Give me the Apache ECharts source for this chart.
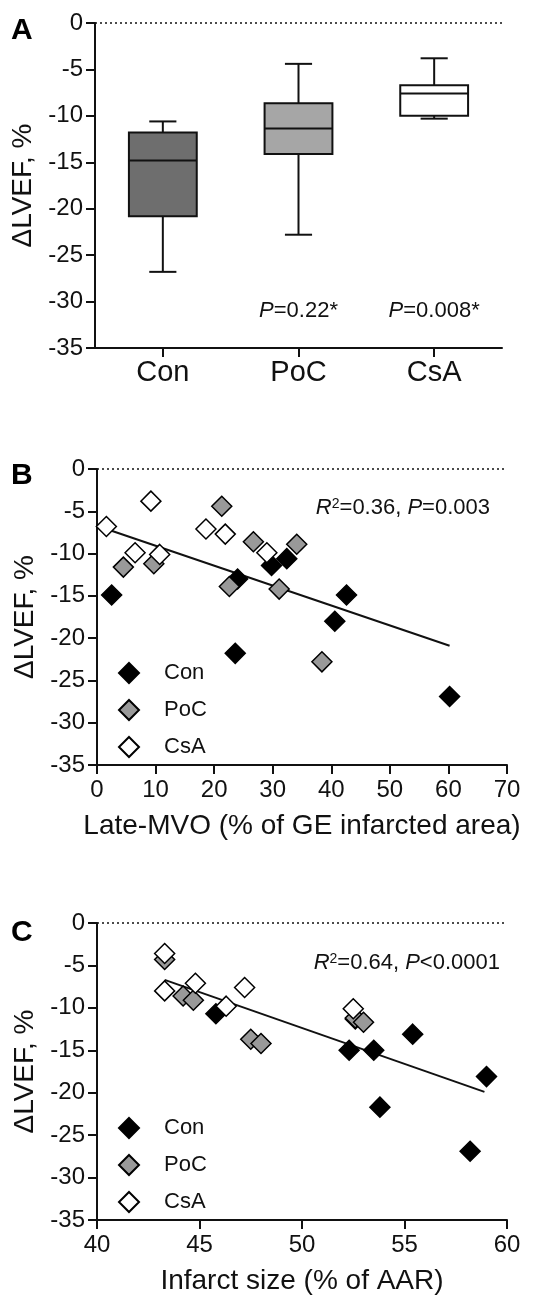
<!DOCTYPE html>
<html>
<head>
<meta charset="utf-8">
<script src="https://cdn.jsdelivr.net/npm/echarts@6/dist/echarts.min.js"></script>
<style>
  body { margin: 0; background: #fff; }
  #chart { width: 534px; height: 1296px; }
</style>
</head>
<body>
<div id="chart"></div>
<script>
  // Panel A - box plot (min, Q1, median, Q3, max)
  const groups = ['Con', 'PoC', 'CsA'];
  const boxMin = [-26.8, -22.8, -10.3];
  const boxQ1 = [-20.8, -14.1, -10.0];
  const boxMed = [-14.8, -11.35, -7.6];
  const boxQ3 = [-11.8, -8.65, -6.7];
  const boxMax = [-10.6, -4.4, -3.8];
  const pLabels = ['', '=0.22*', '=0.008*'];

  // Panel B - Late-MVO vs dLVEF
  const mvoCon = [[2.5, -14.9], [24.0, -13.0], [23.6, -21.8], [29.8, -11.4], [32.4, -10.6], [42.6, -14.9], [40.6, -18.0], [60.2, -26.9]];
  const mvoPoC = [[4.5, -11.6], [9.7, -11.2], [21.3, -4.4], [22.6, -13.9], [26.7, -8.6], [34.1, -8.9], [31.1, -14.2], [38.4, -22.8]];
  const mvoCsA = [[1.6, -6.8], [9.2, -3.8], [6.5, -9.9], [10.7, -10.1], [18.6, -7.1], [21.9, -7.7], [29.0, -9.9]];
  const mvoFit = [[1.6, -7.1], [60.2, -20.9]];

  // Panel C - infarct size vs dLVEF
  const isCon = [[45.8, -10.7], [52.3, -15.0], [53.5, -15.0], [55.4, -13.1], [53.8, -21.7], [59.0, -18.1], [58.2, -26.9], [52.6, -11.3]];
  const isPoC = [[43.3, -4.3], [44.2, -8.6], [44.7, -9.1], [47.5, -13.7], [48.0, -14.2], [52.6, -11.2], [53.0, -11.7]];
  const isCsA = [[43.3, -3.6], [43.3, -8.0], [44.8, -7.1], [47.2, -7.6], [46.3, -9.8], [52.5, -10.1]];
  const isFit = [[43.3, -6.7], [58.9, -19.9]];

  const boxColors = ['#6e6e6e', '#a6a6a6', '#ffffff'];
  const dotColors = {Con: '#000000', PoC: '#999999', CsA: '#ffffff'};
  const font = "'Liberation Sans', Arial, sans-serif";

  let myChart = echarts.init(document.getElementById('chart'))

  function yAxisOpt(gridIndex) {
    return {
      gridIndex: gridIndex,
      type: 'value',
      min: -35, max: 0, interval: 5,
      name: 'ΔLVEF, %',
      nameLocation: 'middle',
      nameGap: 54,
      nameTextStyle: {fontSize: 28, fontFamily: font, color: '#111'},
      axisLine: {show: true, onZero: false, lineStyle: {color: '#111', width: 2}},
      axisTick: {show: true, length: 9, lineStyle: {color: '#111', width: 2}},
      axisLabel: {fontSize: 24, fontFamily: font, color: '#111', margin: 12},
      splitLine: {show: false}
    }
  }

  function xValueAxis(gridIndex, min, max, interval, name) {
    return {
      gridIndex: gridIndex,
      type: 'value',
      min: min, max: max, interval: interval,
      name: name,
      nameLocation: 'middle',
      nameGap: 47,
      nameTextStyle: {fontSize: 28, fontFamily: font, color: '#111'},
      axisLine: {show: true, onZero: false, lineStyle: {color: '#111', width: 2}},
      axisTick: {show: true, length: 9, lineStyle: {color: '#111', width: 2}},
      axisLabel: {fontSize: 24, fontFamily: font, color: '#111', margin: 13},
      splitLine: {show: false}
    }
  }

  const zeroLine = {
    silent: true,
    symbol: ['none', 'none'],
    label: {show: false},
    lineStyle: {type: [2, 3], color: '#111', width: 1.5},
    data: [{yAxis: 0}]
  };

  function scatter(name, data, axis) {
    return {
      name: name,
      type: 'scatter',
      xAxisIndex: axis, yAxisIndex: axis,
      symbol: 'diamond',
      symbolSize: 20,
      itemStyle: {color: dotColors[name], borderColor: '#000', borderWidth: 1.5, opacity: 1},
      data: data,
      z: 3
    }
  }

  function legendOpt(top) {
    return {
      orient: 'vertical',
      left: 118,
      top: top,
      padding: 0,
      itemGap: 15,
      itemWidth: 20,
      itemHeight: 20,
      selectedMode: false,
      textStyle: {fontSize: 22, fontFamily: font, color: '#111', padding: [0, 0, 0, 20]},
      data: ['Con', 'PoC', 'CsA']
    }
  }

  const richText = {
    n: {fontSize: 22, fontFamily: font, fill: '#111'},
    i: {fontSize: 22, fontFamily: font, fontStyle: 'italic', fill: '#111'},
    s: {fontSize: 14, fontFamily: font, fill: '#111', verticalAlign: 'top'}
  };

  function note(x, y, text, align) {
    return {
      type: 'text',
      x: x, y: y,
      style: {
        text: text,
        rich: richText,
        fontSize: 22,
        fontFamily: font,
        fill: '#111',
        align: align,
        verticalAlign: 'middle'
      }
    }
  }

  function panelLetter(y, letter) {
    return {
      type: 'text',
      x: 11, y: y,
      style: {text: letter, fontSize: 30, fontWeight: 'bold', fontFamily: font, fill: '#000', verticalAlign: 'middle'}
    }
  }

  myChart.setOption({
    animation: false,
    grid: [
      {left: 95, top: 23, width: 407, height: 325},
      {left: 97, top: 469, width: 410, height: 296},
      {left: 97, top: 923, width: 410, height: 297}
    ],
    xAxis: [
      {
        gridIndex: 0,
        type: 'category',
        data: groups,
        axisLine: {show: true, onZero: false, lineStyle: {color: '#111', width: 2}},
        axisTick: {show: true, alignWithLabel: true, length: 9, lineStyle: {color: '#111', width: 2}},
        axisLabel: {fontSize: 29, fontFamily: font, color: '#111', margin: 10}
      },
      xValueAxis(1, 0, 70, 10, 'Late-MVO (% of GE infarcted area)'),
      xValueAxis(2, 40, 60, 5, 'Infarct size (% of AAR)')
    ],
    yAxis: [yAxisOpt(0), yAxisOpt(1), yAxisOpt(2)],
    legend: [legendOpt(662), legendOpt(1117)],
    series: [
      {
        type: 'custom',
        xAxisIndex: 0, yAxisIndex: 0,
        encode: {x: 0, y: [1, 2, 3, 4, 5]},
        data: groups.map((g, i) => [i, boxMin[i], boxQ1[i], boxMed[i], boxQ3[i], boxMax[i]]),
        renderItem: function (params, api) {
          const idx = api.value(0);
          const cx = api.coord([idx, 0])[0];
          const band = api.size([1, 0])[0];
          const bw = band * 0.5, cw = band * 0.2;
          const y = [1, 2, 3, 4, 5].map(d => api.coord([idx, api.value(d)])[1]);
          const ls = {stroke: '#111', lineWidth: 2};
          return {
            type: 'group',
            children: [
              {type: 'line', shape: {x1: cx, y1: y[0], x2: cx, y2: y[1]}, style: ls},
              {type: 'line', shape: {x1: cx, y1: y[3], x2: cx, y2: y[4]}, style: ls},
              {type: 'line', shape: {x1: cx - cw / 2, y1: y[0], x2: cx + cw / 2, y2: y[0]}, style: ls},
              {type: 'line', shape: {x1: cx - cw / 2, y1: y[4], x2: cx + cw / 2, y2: y[4]}, style: ls},
              {type: 'rect', shape: {x: cx - bw / 2, y: y[3], width: bw, height: y[1] - y[3]},
                style: {fill: boxColors[idx], stroke: '#111', lineWidth: 2}},
              {type: 'line', shape: {x1: cx - bw / 2, y1: y[2], x2: cx + bw / 2, y2: y[2]}, style: ls}
            ]
          }
        }
      },
      {
        type: 'line',
        xAxisIndex: 0, yAxisIndex: 0,
        data: [],
        markLine: zeroLine
      },
      {
        type: 'scatter',
        xAxisIndex: 0, yAxisIndex: 0,
        symbolSize: 1,
        itemStyle: {opacity: 0},
        data: groups.map((g, i) => [i, -31]),
        label: {
          show: true,
          position: 'inside',
          opacity: 1,
          formatter: p => pLabels[p.dataIndex] ? '{i|P}{n|' + pLabels[p.dataIndex] + '}' : '',
          rich: {
            n: {fontSize: 22, fontFamily: font, color: '#111', opacity: 1},
            i: {fontSize: 22, fontFamily: font, fontStyle: 'italic', color: '#111', opacity: 1}
          }
        },
        silent: true
      },
      {
        type: 'line',
        xAxisIndex: 1, yAxisIndex: 1,
        data: mvoFit,
        symbol: 'none',
        lineStyle: {color: '#111', width: 2},
        markLine: zeroLine,
        z: 2
      },
      scatter('Con', mvoCon, 1),
      scatter('PoC', mvoPoC, 1),
      scatter('CsA', mvoCsA, 1),
      {
        type: 'line',
        xAxisIndex: 2, yAxisIndex: 2,
        data: isFit,
        symbol: 'none',
        lineStyle: {color: '#111', width: 2},
        markLine: zeroLine,
        z: 2
      },
      scatter('Con', isCon, 2),
      scatter('PoC', isPoC, 2),
      scatter('CsA', isCsA, 2)
    ],
    graphic: [
      panelLetter(31, 'A'),
      panelLetter(476, 'B'),
      panelLetter(933, 'C'),
      note(490, 508, '{i|R}{s|2}{n|=0.36, }{i|P}{n|=0.003}', 'right'),
      note(500, 963, '{i|R}{s|2}{n|=0.64, }{i|P}{n|<0.0001}', 'right')
    ]
  });
</script>
</body>
</html>
